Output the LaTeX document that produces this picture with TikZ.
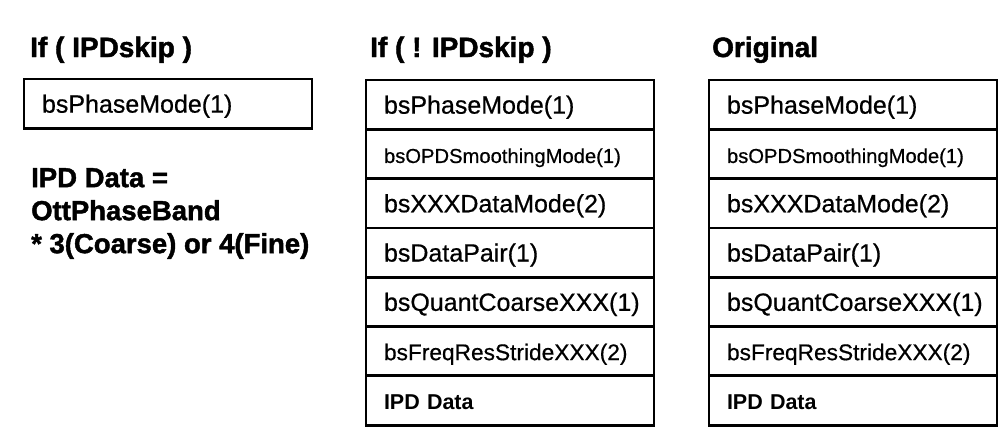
\documentclass[tikz,border=0pt]{standalone}
\usepackage{fontspec}
\setmainfont{Liberation Sans}[FakeBold=0]
\newfontfamily\bodyfont{Liberation Sans}[FakeBold=0.6]
\newfontfamily\headfont{Liberation Sans Bold}[FakeBold=1.6]
\usetikzlibrary{positioning}

\tikzset{
    field/.style={draw, line width=2.8pt, outer sep=0pt, inner xsep=18pt, inner ysep=0pt,
        text width=252pt, align=left, minimum height=49.3pt, anchor=north west,
        text height=18pt, text depth=0pt},
    big/.style={font=\bodyfont\fontsize{25}{29}\selectfont},
    small/.style={font=\bodyfont\fontsize{20.2}{24}\selectfont},
    mid/.style={font=\bodyfont\fontsize{22.7}{27}\selectfont},
    data/.style={font=\bfseries\fontsize{21.5}{26}\selectfont},
    heading/.style={anchor=base west, inner sep=0pt, font=\headfont\fontsize{28}{33}\selectfont},
    note/.style={anchor=north west, inner sep=0pt, align=left, font=\headfont\fontsize{27.5}{33}\selectfont}
}

\begin{document}
\begin{tikzpicture}[x=1pt, y=-1pt]
    \useasboundingbox (0,0) rectangle (1001,432);

    % IPDskip set
    \node[heading] (skiptitle) at (30,57) {If ( IPDskip )};
    \node[field, big] (skip1) at (24,79) {bsPhaseMode(1)};
    \node[note] (ipdnote) at (31,168) {IPD Data =\\OttPhaseBand\\* 3(Coarse) or 4(Fine)};

    % IPDskip not set, and the original layout
    \node[heading] (noskiptitle) at (370,57) {If ( ! IPDskip )};
    \node[heading] (origtitle) at (712,57) {Original};
    \foreach \col/\x in {noskip/366, orig/709} {
        \foreach \txt/\sz [count=\i] in {bsPhaseMode(1)/big, bsOPDSmoothingMode(1)/small,
            bsXXXDataMode(2)/big, bsDataPair(1)/big, bsQuantCoarseXXX(1)/big,
            bsFreqResStrideXXX(2)/mid, IPD Data/data} {
            \ifnum\i=1
                \node[field, \sz] (\col\i) at (\x,80) {\txt};
            \else
                \pgfmathtruncatemacro\prev{\i-1}
                \node[field, \sz, below=0pt of \col\prev] (\col\i) {\txt};
            \fi
        }
    }
\end{tikzpicture}
\end{document}
